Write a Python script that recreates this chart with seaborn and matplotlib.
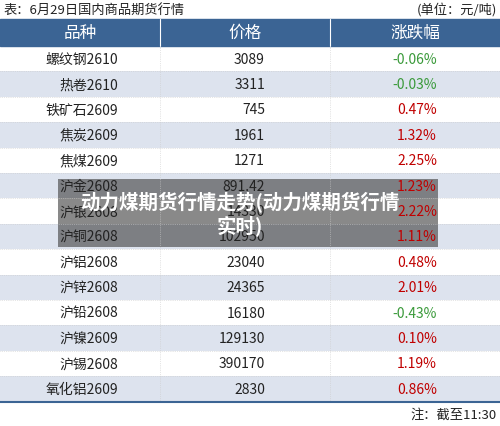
import matplotlib.pyplot as plt
import seaborn as sns
from matplotlib.patches import Rectangle

names = ["螺纹钢2610", "热卷2610", "铁矿石2609", "焦炭2609", "焦煤2609", "沪金2608", "沪银2608",
         "沪铜2608", "沪铝2608", "沪锌2608", "沪铅2608", "沪镍2609", "沪锡2608", "氧化铝2609"]
prices = ["3089", "3311", "745", "1961", "1271", "891.42", "14330",
          "102950", "23040", "24365", "16180", "129130", "390170", "2830"]
changes = [-0.06, -0.03, 0.47, 1.32, 2.25, 1.23, 2.22, 1.11, 0.48, 2.01, -0.43, 0.10, 1.19, 0.86]
headers = ["品种", "价格", "涨跌幅"]

sns.set_theme(style="white")
plt.rcParams['font.family'] = ['Noto Sans CJK SC', 'DejaVu Sans']

fig = plt.figure(figsize=(5, 4.27), dpi=100)
ax = fig.add_axes([0, 0, 1, 1])
ax.set_xlim(0, 500)
ax.set_ylim(427, 0)
ax.axis("off")

top, hh, rh = 20, 27, 25.4
col_x = [0, 160, 330, 500]
ax.text(3, 10, "表：6月29日国内商品期货行情", fontsize=9.5, va="center", color="#222222")
ax.text(497, 10, "(单位：元/吨)", fontsize=9.5, va="center", ha="right", color="#222222")
ax.add_patch(Rectangle((0, top), 500, hh, color="#3b6494"))
for i, h in enumerate(headers):
    ax.text((col_x[i] + col_x[i + 1]) / 2, top + hh / 2, h, ha="center", va="center",
            color="white", fontsize=12)
for x in col_x[1:-1]:
    ax.plot([x, x], [top, top + hh], color="white", lw=0.8)

y0 = top + hh
for i, (n, p, c) in enumerate(zip(names, prices, changes)):
    y = y0 + i * rh
    if i % 2 == 1:
        ax.add_patch(Rectangle((0, y), 500, rh, color="#dde3ee", lw=0))
    cy = y + rh / 2
    ax.text(118, cy, n, ha="right", va="center", fontsize=10, color="#222222")
    ax.text(265, cy, p, ha="right", va="center", fontsize=10, color="#222222")
    ax.text(437, cy, f"{c:.2f}%", ha="right", va="center", fontsize=10,
            color="#3a9a3a" if c < 0 else "#c00000")
    ax.plot([0, 500], [y + rh, y + rh], color="#cccccc", lw=0.5, ls=":")
end = y0 + len(names) * rh
for x in col_x[1:-1]:
    ax.plot([x, x], [y0, end], color="#cccccc", lw=0.5, ls=":")
ax.plot([0, 500], [end, end], color="#3b6494", lw=1.5)
ax.text(497, 415, "注：截至11:30", fontsize=9.5, ha="right", va="center", color="#222222")

# semi-transparent caption overlay
ax.add_patch(Rectangle((58, 180), 380, 68, color="#4a4a4a", alpha=0.65, lw=0))
ax.text(240, 214, "动力煤期货行情走势(动力煤期货行情\n实时)", ha="center", va="center",
        color="white", fontsize=14, fontweight="bold", linespacing=1.15)

fig.savefig("out.png", dpi=100)
